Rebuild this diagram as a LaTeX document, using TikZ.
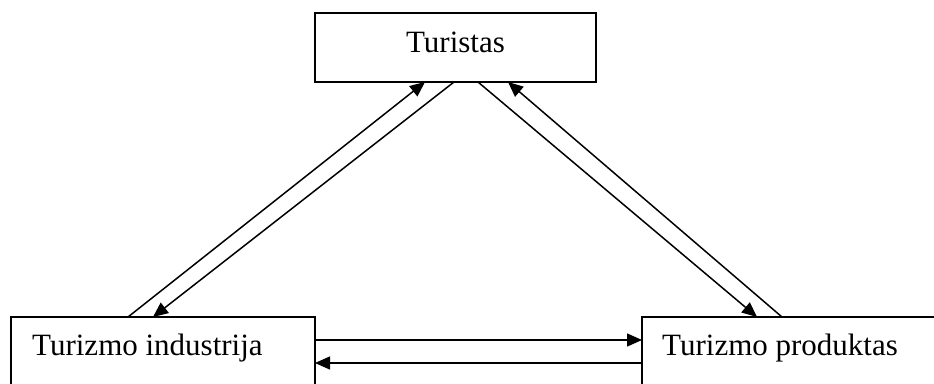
\documentclass[tikz,border=0pt]{standalone}
\usepackage{fontspec}
\setmainfont{Liberation Serif}
\usetikzlibrary{arrows.meta}
\begin{document}
\begin{tikzpicture}[x=1pt,y=-1pt,
  boxnode/.style={draw, line width=1.6pt, inner sep=0pt, outer sep=0pt},
  lbl/.style={inner sep=0pt, font=\fontsize{31}{36}\selectfont},
  arr/.style={line width=1.5pt, -{Triangle[length=15pt,width=13pt]}}]
\useasboundingbox (0,0) rectangle (934,383);
\node[boxnode, minimum width=281pt, minimum height=69pt] (T) at (455.5,47.5) {};
\node[boxnode, minimum width=304pt, minimum height=100pt] (L) at (163,367) {};
\node[boxnode, minimum width=320pt, minimum height=100pt] (R) at (802,367) {};
\node[lbl, anchor=base] (tT) at (455.5,52) {Turistas};
\node[lbl, anchor=base west] (tL) at (32,355) {Turizmo industrija};
\node[lbl, anchor=base west] (tR) at (662,355) {Turizmo produktas};
% left pair
\draw[arr] ([xshift=117pt]L.north west) -- ([xshift=110pt]T.south west);
\draw[arr] ([xshift=139pt]T.south west) -- ([xshift=142pt]L.north west);
% right pair
\draw[arr] ([xshift=163pt]T.south west) -- ([xshift=115pt]R.north west);
\draw[arr] ([xshift=140pt]R.north west) -- ([xshift=193pt]T.south west);
% horizontal pair
\draw[arr] ([yshift=-23pt]L.north east) -- ([yshift=-23pt]R.north west);
\draw[arr] ([yshift=-46pt]R.north west) -- ([yshift=-46pt]L.north east);
\end{tikzpicture}
\end{document}
